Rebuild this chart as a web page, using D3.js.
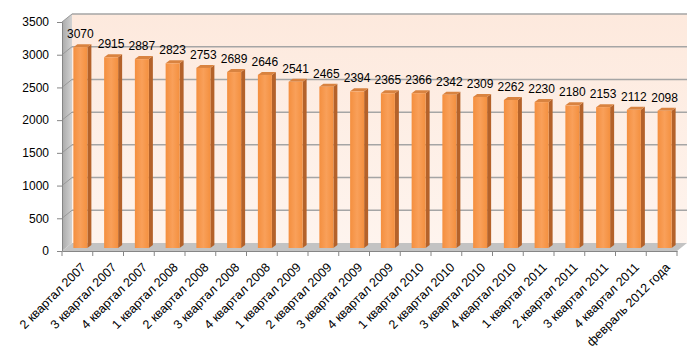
<!DOCTYPE html>
<html>
<head>
<meta charset="utf-8">
<script src="https://d3js.org/d3.v7.min.js"></script>
<style>
    body { margin: 0; background: #fff; }
    text { font-family: "Liberation Sans", Arial, sans-serif; fill: #000; }
    .tick text { font-size: 12px; }
    .xlab .tick text { font-size: 12.5px; }
    .val { font-size: 12px; text-anchor: middle; }
</style>
</head>
<body>
<script>
    // data
    var categories = ["2 квартал 2007", "3 квартал 2007", "4 квартал 2007", "1 квартал 2008",
        "2 квартал 2008", "3 квартал 2008", "4 квартал 2008", "1 квартал 2009", "2 квартал 2009",
        "3 квартал 2009", "4 квартал 2009", "1 квартал 2010", "2 квартал 2010", "3 квартал 2010",
        "4 квартал 2010", "1 квартал 2011", "2 квартал 2011", "3 квартал 2011", "4 квартал 2011",
        "февраль 2012 года"];
    var values = [3070, 2915, 2887, 2823, 2753, 2689, 2646, 2541, 2465, 2394,
        2365, 2366, 2342, 2309, 2262, 2230, 2180, 2153, 2112, 2098];
    var yTicks = [0, 500, 1000, 1500, 2000, 2500, 3000, 3500];

    var width = 700, height = 351;
    var plotLeft = 62, plotRight = 677, plotBottom = 251, plotTop = 22;
    var depthX = 10, depthY = 8;     // back wall offset
    var barDX = 3, barDY = 3;        // bar front plane offset
    var barW = 14, barSide = 4, barTop = 3;

    var svg = d3.select("body").append("svg")
        .attr("width", width)
        .attr("height", height);

    var x = d3.scaleBand().domain(categories).range([plotLeft, plotRight]);
    var y = d3.scaleLinear().domain([0, 3500]).range([plotBottom, plotTop]);

    var defs = svg.append("defs");
    var wallGrad = defs.append("linearGradient").attr("id", "wallGrad")
        .attr("x1", 0).attr("y1", 0).attr("x2", 0).attr("y2", 1);
    wallGrad.append("stop").attr("offset", "0%").attr("stop-color", "#fde9dd");
    wallGrad.append("stop").attr("offset", "100%").attr("stop-color", "#fef4ee");
    var sideGrad = defs.append("linearGradient").attr("id", "sideGrad")
        .attr("x1", 0).attr("y1", 0).attr("x2", 1).attr("y2", 0);
    sideGrad.append("stop").attr("offset", "0%").attr("stop-color", "#a9a9a9");
    sideGrad.append("stop").attr("offset", "100%").attr("stop-color", "#d2d2d2");
    var barGrad = defs.append("linearGradient").attr("id", "barGrad")
        .attr("x1", 0).attr("y1", 0).attr("x2", 1).attr("y2", 0);
    barGrad.append("stop").attr("offset", "0%").attr("stop-color", "#f48f3f");
    barGrad.append("stop").attr("offset", "50%").attr("stop-color", "#f9a05a");
    barGrad.append("stop").attr("offset", "100%").attr("stop-color", "#f4903f");

    // back wall
    svg.append("rect")
        .attr("x", plotLeft + depthX).attr("y", plotTop - depthY)
        .attr("width", plotRight - plotLeft).attr("height", plotBottom - plotTop)
        .attr("fill", "url(#wallGrad)");

    // left wall
    svg.append("polygon")
        .attr("points", [[plotLeft, plotTop], [plotLeft + depthX, plotTop - depthY],
            [plotLeft + depthX, plotBottom - depthY], [plotLeft, plotBottom]].join(" "))
        .attr("fill", "url(#sideGrad)");

    // floor
    svg.append("polygon")
        .attr("points", [[plotLeft, plotBottom], [plotRight, plotBottom],
            [plotRight + depthX, plotBottom - depthY], [plotLeft + depthX, plotBottom - depthY]].join(" "))
        .attr("fill", "#c3c3c3");

    // gridlines on back wall and left wall
    var grid = yTicks.filter(function(d) { return d > 0; });
    svg.selectAll(".grid")
        .data(grid)
        .enter().append("line")
        .attr("x1", plotLeft + depthX).attr("x2", plotRight + depthX)
        .attr("y1", function(d) { return y(d) - depthY; })
        .attr("y2", function(d) { return y(d) - depthY; })
        .attr("stroke", "#a5a5a5").attr("stroke-width", 1.5);
    svg.selectAll(".gridside")
        .data(grid)
        .enter().append("line")
        .attr("x1", plotLeft).attr("x2", plotLeft + depthX)
        .attr("y1", function(d) { return y(d); })
        .attr("y2", function(d) { return y(d) - depthY; })
        .attr("stroke", "#999").attr("stroke-width", 1);

    // bars
    var bars = svg.selectAll(".bar")
        .data(values)
        .enter().append("g");

    function bx(d, i) { return x(categories[i]) + x.bandwidth() / 2 + barDX - barW / 2; }
    function by(d) { return y(d) - barDY; }
    var base = plotBottom - barDY;

    bars.append("polygon")
        .attr("points", function(d, i) {
            var x0 = bx(d, i) + barW, y0 = by(d);
            return [[x0, y0], [x0 + barSide, y0 - barTop],
                [x0 + barSide, base - barTop], [x0, base]].join(" ");
        })
        .attr("fill", "#b4622a");
    bars.append("polygon")
        .attr("points", function(d, i) {
            var x0 = bx(d, i), y0 = by(d);
            return [[x0, y0], [x0 + barW, y0], [x0 + barW + barSide, y0 - barTop],
                [x0 + barSide, y0 - barTop]].join(" ");
        })
        .attr("fill", "#d98340");
    bars.append("rect")
        .attr("x", bx)
        .attr("y", by)
        .attr("width", barW)
        .attr("height", function(d) { return base - by(d); })
        .attr("fill", "url(#barGrad)");

    // value labels
    svg.selectAll(".val")
        .data(values)
        .enter().append("text")
        .attr("class", "val")
        .attr("x", function(d, i) { return bx(d, i) + barW / 2; })
        .attr("y", function(d) { return by(d) - 9; })
        .text(function(d) { return d; });

    // y axis
    var yAxis = svg.append("g")
        .attr("transform", "translate(" + plotLeft + ",0)")
        .call(d3.axisLeft(y).tickValues(yTicks).tickFormat(d3.format("d"))
            .tickSize(5).tickSizeOuter(0).tickPadding(8));
    yAxis.select(".domain").attr("stroke", "#868686");
    yAxis.selectAll(".tick line").attr("stroke", "#868686");

    // x axis
    var xAxis = svg.append("g")
        .attr("class", "xlab")
        .attr("transform", "translate(0," + plotBottom + ")")
        .call(d3.axisBottom(x).tickSize(0).tickSizeOuter(0));
    xAxis.select(".domain").attr("stroke", "#868686");
    xAxis.selectAll(".tick text")
        .style("text-anchor", "end")
        .attr("transform", "translate(6,14) rotate(-45)")
        .attr("dy", "0.35em")
        .attr("y", 0)
        .attr("x", 0);

    // tick marks at category boundaries
    var edges = categories.map(function(c) { return x(c); }).concat([plotRight]);
    svg.selectAll(".edge")
        .data(edges)
        .enter().append("line")
        .attr("x1", function(d) { return d; }).attr("x2", function(d) { return d; })
        .attr("y1", plotBottom).attr("y2", plotBottom + 5)
        .attr("stroke", "#868686");
</script>
</body>
</html>
